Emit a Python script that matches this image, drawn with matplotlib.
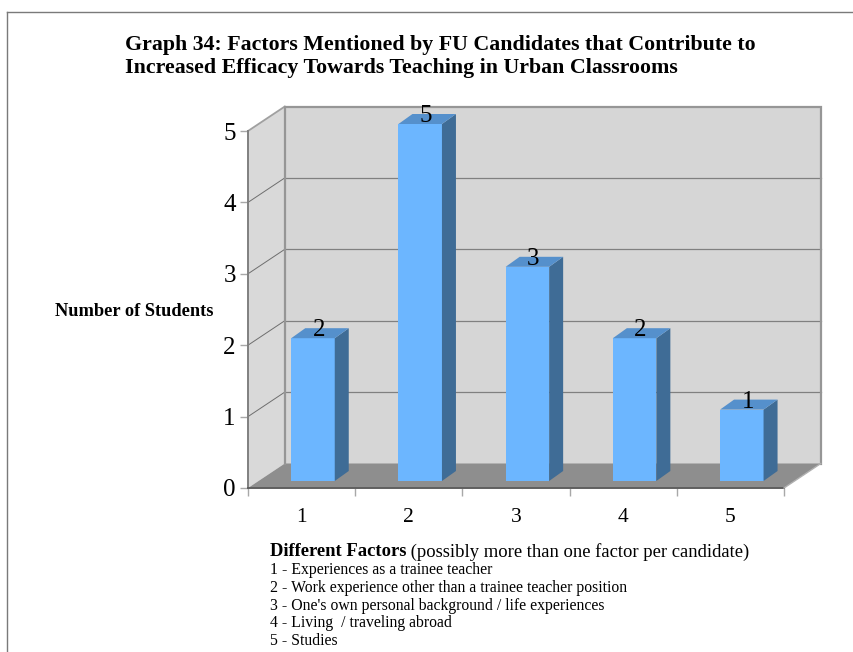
import matplotlib
matplotlib.use("Agg")
import matplotlib.pyplot as plt
from matplotlib.patches import Polygon

plt.rcParams['font.family'] = ['Liberation Serif', 'DejaVu Serif']

categories = ['1', '2', '3', '4', '5']
values = [2, 5, 3, 2, 1]
y_ticks = [0, 1, 2, 3, 4, 5]
title_lines = ['Graph 34: Factors Mentioned by FU Candidates that Contribute to',
               'Increased Efficacy Towards Teaching in Urban Classrooms']
y_title = 'Number of Students'
x_title_bold = 'Different Factors'
x_title_rest = ' (possibly more than one factor per candidate)'
legend_lines = ['1 - Experiences as a trainee teacher',
                '2 - Work experience other than a trainee teacher position',
                "3 - One's own personal background / life experiences",
                '4 - Living  / traveling abroad',
                '5 - Studies']

W, H = 854, 652
fig = plt.figure(figsize=(W / 100, H / 100), dpi=100, facecolor='white')

def fx(px): return px / W
def fy(py): return 1 - py / H

# frame
fig.add_artist(plt.Line2D([fx(7.5), fx(7.5)], [fy(652), fy(11.5)], color='#7a7a7a', lw=1.0))
fig.add_artist(plt.Line2D([fx(7.5), fx(854)], [fy(11.5), fy(11.5)], color='#7a7a7a', lw=1.0))

# axes = front plane of the 3D box
L, R, B, T = 248, 784, 488, 131
ax = fig.add_axes([fx(L), fy(B), (R - L) / W, (B - T) / H])
n = len(categories)
ax.set_xlim(0, n)
ax.set_ylim(0, 5)
ax.patch.set_visible(False)
for s in ['top', 'right']:
    ax.spines[s].set_visible(False)
ax.spines['left'].set_color('#808080')
ax.spines['left'].set_linewidth(1.4)
ax.spines['bottom'].set_color('#5f5f5f')
ax.spines['bottom'].set_linewidth(1.4)
ux = (R - L) / n
uy = (B - T) / 5
dx = 36.8 / ux      # box depth in data units
dy = 24.5 / uy

def poly(pts, fc, ec='none', lw=0, z=1):
    ax.add_patch(Polygon(pts, closed=True, facecolor=fc, edgecolor=ec, linewidth=lw,
                         zorder=z, clip_on=False))

ymax = y_ticks[-1]
# walls and floor
poly([(0, 0), (dx, dy), (dx, ymax + dy), (0, ymax)], '#d9d9d9', z=1)
poly([(dx, dy), (n + dx, dy), (n + dx, ymax + dy), (dx, ymax + dy)], '#d6d6d6', z=1)
poly([(0, 0), (n, 0), (n + dx, dy), (dx, dy)], '#8e8e8e', z=2)

# gridlines on back wall and side wall
for v in y_ticks[1:-1]:
    ax.plot([dx, n + dx], [v + dy, v + dy], color='#808080', lw=0.9, zorder=2, clip_on=False)
    ax.plot([0, dx], [v, v + dy], color='#6e6e6e', lw=0.7, zorder=2, clip_on=False)
ax.plot([0, dx], [ymax, ymax + dy], color='#a0a0a0', lw=1.3, zorder=2, clip_on=False)
# back wall border
ax.plot([dx, dx, n + dx, n + dx], [dy, ymax + dy, ymax + dy, dy], color='#969696', lw=1.6,
        zorder=2, clip_on=False, solid_joinstyle='miter')
ax.plot([n, n + dx], [0, dy], color='#b0b0b0', lw=1.0, zorder=3, clip_on=False)

# bars
bw = 43.5 / ux
bdx = 14 / ux
bdy = 10 / uy
base_x = 11.4 / ux
base_y = 7 / uy
for i, v in enumerate(values):
    x0 = i + 0.5 - bw / 2 + base_x
    x1 = x0 + bw
    top = base_y + v
    poly([(x0, base_y), (x1, base_y), (x1, top), (x0, top)], '#6cb6ff', z=4)
    poly([(x1, base_y), (x1 + bdx, base_y + bdy), (x1 + bdx, top + bdy), (x1, top)], '#3f6c96', z=4)
    poly([(x0, top), (x1, top), (x1 + bdx, top + bdy), (x0 + bdx, top + bdy)], '#5590cc', z=4)
    ax.text((x0 + x1) / 2 + bdx / 2 - 1 / ux, top + bdy - 2 / uy, str(v), ha='center', va='center',
            fontsize=18, color='black', zorder=6, clip_on=False)

# ticks
ax.set_xticks(range(n + 1))
ax.set_xticklabels([])
ax.tick_params(axis='x', length=5.8, width=1, color='#a8a8a8')
ax.set_yticks(y_ticks)
ax.set_yticklabels([str(v) for v in y_ticks], fontsize=18)
ax.tick_params(axis='y', length=5.8, width=1, color='#a8a8a8', pad=3)
for i, c in enumerate(categories):
    ax.text(i + 0.5, -0.41, c, ha='center', va='center', fontsize=15.5, clip_on=False)

# texts
for line, py in zip(title_lines, [45, 68]):
    fig.text(fx(125), fy(py), line, fontsize=15.75, fontweight='bold', ha='left', va='center')
fig.text(fx(55), fy(312), y_title, fontsize=13.2, fontweight='bold', ha='left', va='center')
t = fig.text(fx(270), fy(552), x_title_bold, fontsize=13.4, fontweight='bold', ha='left', va='center')
fig.canvas.draw()
bb = t.get_window_extent()
fig.text(bb.x1 / W, fy(552), x_title_rest, fontsize=13.4, ha='left', va='center')
for line, py in zip(legend_lines, [570, 588, 606, 623, 641]):
    fig.text(fx(270), fy(py), line, fontsize=11.3, ha='left', va='center')

fig.savefig('out.png', dpi=100)
